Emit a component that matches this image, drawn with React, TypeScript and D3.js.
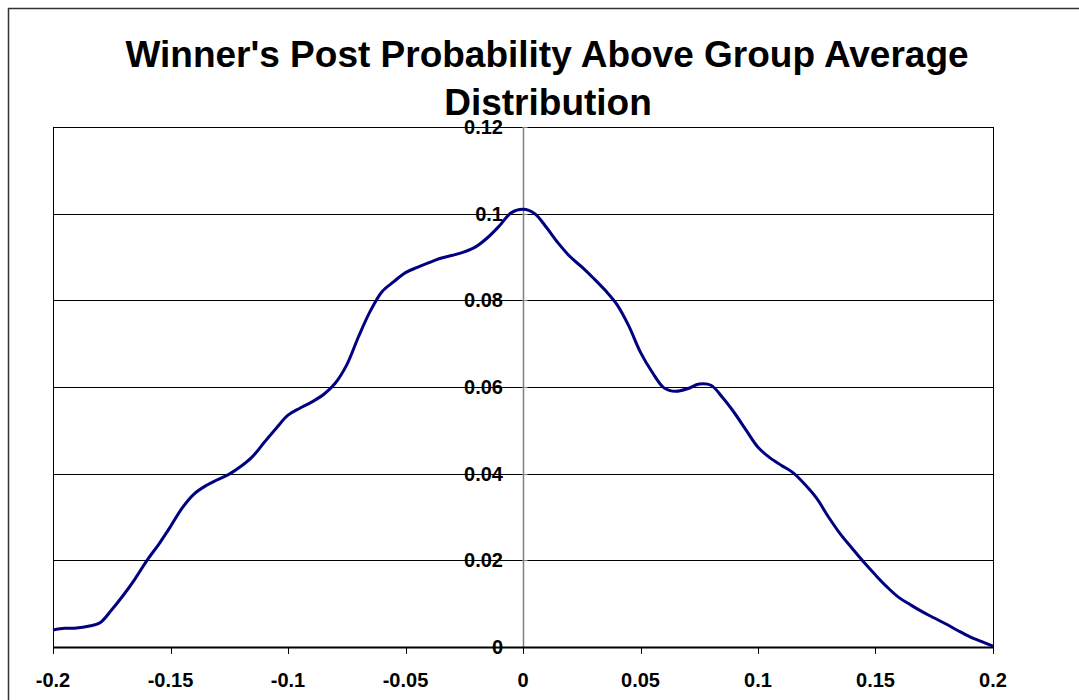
import React from 'react';
import * as d3 from 'd3';

// x values of the distribution, step 0.005
const xValues = d3.range(81).map(i => +(-0.2 + i * 0.005).toFixed(3));

// probability density
const density = [
  0.0039, 0.0043, 0.0044, 0.0048, 0.0056, 0.0086, 0.0120, 0.0158, 0.0200, 0.0237,
  0.0278, 0.0321, 0.0353, 0.0372, 0.0386, 0.0399, 0.0417, 0.0440, 0.0473, 0.0505,
  0.0535, 0.0551, 0.0565, 0.0582, 0.0608, 0.0651, 0.0716, 0.0775, 0.0820, 0.0843,
  0.0864, 0.0876, 0.0887, 0.0897, 0.0904, 0.0912, 0.0924, 0.0945, 0.0972, 0.1002,
  0.1010, 0.1000, 0.0968, 0.0932, 0.0901, 0.0877, 0.0851, 0.0823, 0.0790, 0.0741,
  0.0680, 0.0634, 0.0598, 0.0590, 0.0596, 0.0607, 0.0604, 0.0575, 0.0540, 0.0500,
  0.0461, 0.0437, 0.0419, 0.0402, 0.0375, 0.0343, 0.0300, 0.0261, 0.0228, 0.0196,
  0.0166, 0.0138, 0.0114, 0.0097, 0.0081, 0.0067, 0.0053, 0.0038, 0.0024, 0.0013,
  0.0002,
];

const xTicks = [-0.2, -0.15, -0.1, -0.05, 0, 0.05, 0.1, 0.15, 0.2];
const yTicks = [0, 0.02, 0.04, 0.06, 0.08, 0.1, 0.12];
const titleLines = ["Winner's Post Probability Above Group Average", 'Distribution'];

const W = 1079;
const H = 700;
const plot = { left: 53, top: 127, right: 993, bottom: 647 };
const font = '"Liberation Sans", Arial, sans-serif';

// excel-style labels: plain hyphen for negatives
const fmt = (v: number) => d3.format('~g')(v).replace('\u2212', '-');

export default function App() {
  const x = d3.scaleLinear().domain([-0.2, 0.2]).range([plot.left, plot.right]);
  const y = d3.scaleLinear().domain([0, 0.12]).range([plot.bottom, plot.top]);

  const pts = xValues.map((v, i) => [v, density[i]] as [number, number]);
  const line = d3.line<[number, number]>()
    .x(d => x(d[0]))
    .y(d => y(d[1]))
    .curve(d3.curveCatmullRom.alpha(0.5));

  const x0 = Math.round(x(0)) + 0.5;

  return (
    <svg width={W} height={H} style={{ position: 'fixed', left: 0, top: 0, background: '#fff' }}>
      {/* outer chart frame */}
      <rect x={8.5} y={8.5} width={W + 20} height={H + 20} fill="#fff" stroke="#333" strokeWidth={1.5} />

      {/* title */}
      <text textAnchor="middle" fontFamily={font} fontWeight="bold" fontSize={37} fill="#000">
        <tspan x={547} y={67}>{titleLines[0]}</tspan>
        <tspan x={548} y={115}>{titleLines[1]}</tspan>
      </text>

      {/* gridlines */}
      {yTicks.map(t => (
        <line key={'g' + t} x1={plot.left} x2={plot.right}
          y1={Math.round(y(t)) + 0.5} y2={Math.round(y(t)) + 0.5}
          stroke="#000" strokeWidth={1} />
      ))}

      {/* plot border */}
      <rect x={plot.left + 0.5} y={plot.top + 0.5} width={plot.right - plot.left}
        height={plot.bottom - plot.top} fill="none" stroke="#000" strokeWidth={1} />

      {/* y axis at x = 0 */}
      <line x1={x0} x2={x0} y1={plot.top} y2={plot.bottom} stroke="#808080" strokeWidth={1.5} />
      {yTicks.map(t => (
        <line key={'yt' + t} x1={x0 - 1} x2={x0 + 4}
          y1={Math.round(y(t)) + 0.5} y2={Math.round(y(t)) + 0.5} stroke="#808080" strokeWidth={1} />
      ))}

      {/* x axis */}
      <line x1={plot.left} x2={plot.right + 1} y1={plot.bottom + 0.5} y2={plot.bottom + 0.5}
        stroke="#000" strokeWidth={2} />
      {xTicks.map(t => (
        <line key={'xt' + t} x1={Math.round(x(t)) + 0.5} x2={Math.round(x(t)) + 0.5}
          y1={plot.bottom} y2={plot.bottom + 7} stroke="#000" strokeWidth={1} />
      ))}

      {/* series */}
      <path d={line(pts) || ''} fill="none" stroke="#000080" strokeWidth={3} strokeLinejoin="round" />

      {/* y tick labels */}
      {yTicks.map(t => (
        <text key={'yl' + t} x={503} y={y(t)} dy="0.35em" textAnchor="end"
          fontFamily={font} fontWeight="bold" fontSize={20} fill="#000">
          {fmt(t)}
        </text>
      ))}

      {/* x tick labels */}
      {xTicks.map(t => (
        <text key={'xl' + t} x={x(t)} y={687} textAnchor="middle"
          fontFamily={font} fontWeight="bold" fontSize={20} fill="#000">
          {fmt(t)}
        </text>
      ))}
    </svg>
  );
}
